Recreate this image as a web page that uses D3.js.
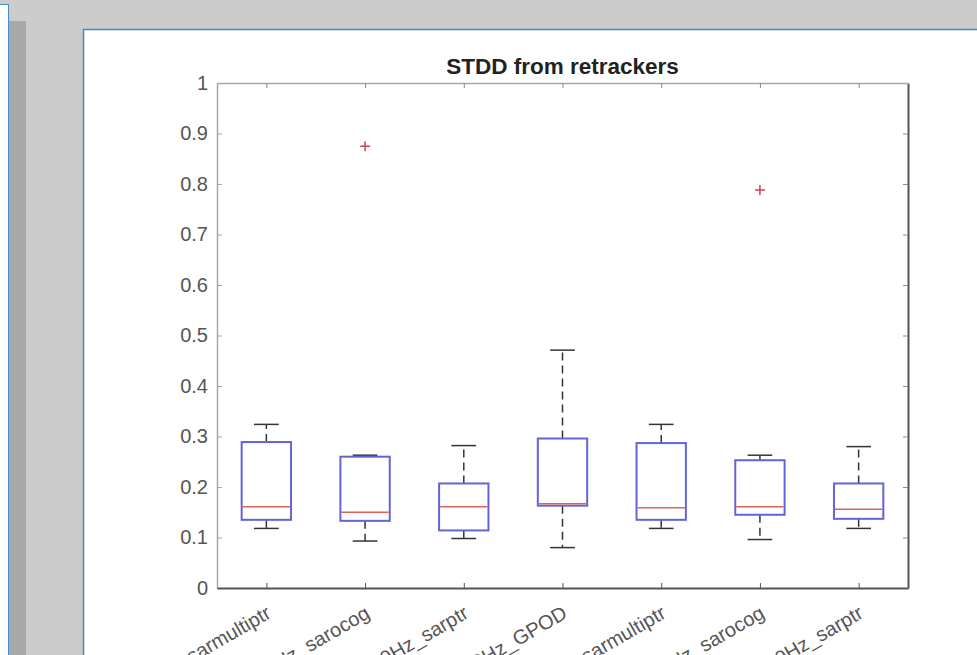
<!DOCTYPE html>
<html>
<head>
<meta charset="utf-8">
<script src="https://cdn.jsdelivr.net/npm/d3@7"></script>
<style>
  html, body { margin: 0; padding: 0; background: #cccccc; overflow: hidden; }
  svg { display: block; font-family: "Liberation Sans", Arial, Helvetica, sans-serif; }
</style>
</head>
<body>
<div id="chart"></div>
<script>
// values
const categories = [
  'S3A_20Hz_sarmultiptr', 'S3A_20Hz_sarocog', 'S3A_20Hz_sarptr', 'S3A_20Hz_GPOD',
  'S3B_20Hz_sarmultiptr', 'S3B_20Hz_sarocog', 'S3B_20Hz_sarptr'
]
const q1 = [0.135, 0.133, 0.114, 0.163, 0.135, 0.145, 0.137]
const medians = [0.161, 0.150, 0.161, 0.167, 0.159, 0.161, 0.156]
const q3 = [0.289, 0.260, 0.207, 0.296, 0.287, 0.253, 0.207]
const whiskerLow = [0.118, 0.093, 0.098, 0.080, 0.118, 0.096, 0.118]
const whiskerHigh = [0.324, 0.263, 0.282, 0.471, 0.324, 0.263, 0.280]
const outliers = [[], [0.875], [], [], [], [0.788], []]
const yTicks = [0, 0.1, 0.2, 0.3, 0.4, 0.5, 0.6, 0.7, 0.8, 0.9, 1]
const title = 'STDD from retrackers'

const totalWidth = 977
const totalHeight = 655
const axLeft = 217, axRight = 908, axTop = 83, axBottom = 588
const boxWidth = 0.5
const capWidth = 0.25
const axeLight = '#a8a8a8'
const axeDark = '#555555'

const svg = d3.select('#chart')
  .append('svg')
  .attr('width', totalWidth)
  .attr('height', totalHeight)

// page frames around the figure
svg.append('rect').attr('x', 0).attr('y', 0).attr('width', totalWidth).attr('height', totalHeight).attr('fill', '#cccccc')
svg.append('rect').attr('x', -2).attr('y', 4.5).attr('width', 10.5).attr('height', 700)
  .attr('fill', '#ffffff').attr('stroke', '#4a8cc8').attr('stroke-width', 1)
svg.append('rect').attr('x', 9).attr('y', 21).attr('width', 17).attr('height', 700).attr('fill', '#a9a9a9')
svg.append('rect').attr('x', 83.5).attr('y', 29.5).attr('width', 900).attr('height', 700)
  .attr('fill', '#ffffff').attr('stroke', '#3f88c8').attr('stroke-width', 1.5)

const x = d3.scaleLinear()
  .domain([0.5, categories.length + 0.5])
  .range([axLeft, axRight])

const y = d3.scaleLinear()
  .domain([0, 1])
  .range([axBottom, axTop])

const idx = d3.range(categories.length)

// axes box
const yAxis = svg.append('g')
  .attr('transform', `translate(${axLeft},0)`)
  .call(d3.axisLeft(y).tickValues(yTicks).tickFormat(d3.format('')).tickSizeInner(-5).tickSizeOuter(0).tickPadding(9))
yAxis.select('.domain').attr('stroke', axeLight).attr('stroke-width', 1.5)
yAxis.selectAll('.tick line').attr('stroke', axeLight)
yAxis.selectAll('.tick text').style('font-size', '20px').style('fill', '#555555')

const yAxisRight = svg.append('g')
  .attr('transform', `translate(${axRight},0)`)
  .call(d3.axisRight(y).tickValues(yTicks).tickFormat('').tickSizeInner(-5).tickSizeOuter(0))
yAxisRight.select('.domain').attr('stroke', axeDark).attr('stroke-width', 2)
yAxisRight.selectAll('.tick line').attr('stroke', '#888888')

const xAxisTop = svg.append('g')
  .attr('transform', `translate(0,${axTop})`)
  .call(d3.axisTop(x).tickValues(idx.map(i => i + 1)).tickFormat('').tickSizeInner(-5).tickSizeOuter(0))
xAxisTop.select('.domain').attr('stroke', axeLight).attr('stroke-width', 1.5)
xAxisTop.selectAll('.tick line').attr('stroke', '#888888')

const xAxis = svg.append('g')
  .attr('transform', `translate(0,${axBottom})`)
  .call(d3.axisBottom(x).tickValues(idx.map(i => i + 1)).tickFormat(d => categories[d - 1]).tickSizeInner(-5).tickSizeOuter(0))
xAxis.select('.domain').attr('stroke', axeDark).attr('stroke-width', 2)
xAxis.selectAll('.tick line').attr('stroke', axeDark)
xAxis.selectAll('.tick text')
  .attr('transform', 'translate(-2,16) rotate(-30)')
  .attr('text-anchor', 'end')
  .attr('dy', '0.75em')
  .attr('y', 0)
  .style('font-size', '20px')
  .style('fill', '#555555')

// title
svg.append('text')
  .attr('x', (axLeft + axRight) / 2)
  .attr('y', 74)
  .attr('text-anchor', 'middle')
  .style('font-size', '22.5px')
  .style('font-weight', 'bold')
  .style('fill', '#222222')
  .text(title)

const plot = svg.append('g').attr('class', 'boxes')

// whiskers (dashed)
plot.selectAll('line.whisker-up')
  .data(idx)
  .join('line')
  .attr('class', 'whisker-up')
  .attr('x1', i => x(i + 1)).attr('x2', i => x(i + 1))
  .attr('y1', i => y(q3[i])).attr('y2', i => y(whiskerHigh[i]))
  .attr('stroke', '#333333').attr('stroke-width', 1.5).attr('stroke-dasharray', '8,5')

plot.selectAll('line.whisker-down')
  .data(idx)
  .join('line')
  .attr('class', 'whisker-down')
  .attr('x1', i => x(i + 1)).attr('x2', i => x(i + 1))
  .attr('y1', i => y(q1[i])).attr('y2', i => y(whiskerLow[i]))
  .attr('stroke', '#333333').attr('stroke-width', 1.5).attr('stroke-dasharray', '8,5')

// whisker caps
plot.selectAll('line.cap-up')
  .data(idx)
  .join('line')
  .attr('class', 'cap-up')
  .attr('x1', i => x(i + 1 - capWidth / 2)).attr('x2', i => x(i + 1 + capWidth / 2))
  .attr('y1', i => y(whiskerHigh[i])).attr('y2', i => y(whiskerHigh[i]))
  .attr('stroke', '#333333').attr('stroke-width', 1.5)

plot.selectAll('line.cap-down')
  .data(idx)
  .join('line')
  .attr('class', 'cap-down')
  .attr('x1', i => x(i + 1 - capWidth / 2)).attr('x2', i => x(i + 1 + capWidth / 2))
  .attr('y1', i => y(whiskerLow[i])).attr('y2', i => y(whiskerLow[i]))
  .attr('stroke', '#333333').attr('stroke-width', 1.5)

// boxes
plot.selectAll('rect.box')
  .data(idx)
  .join('rect')
  .attr('class', 'box')
  .attr('x', i => x(i + 1 - boxWidth / 2))
  .attr('width', i => x(i + 1 + boxWidth / 2) - x(i + 1 - boxWidth / 2))
  .attr('y', i => y(q3[i]))
  .attr('height', i => y(q1[i]) - y(q3[i]))
  .attr('fill', 'none')
  .attr('stroke', '#6464d8')
  .attr('stroke-width', 2)

// medians
plot.selectAll('line.median')
  .data(idx)
  .join('line')
  .attr('class', 'median')
  .attr('x1', i => x(i + 1 - boxWidth / 2) + 1).attr('x2', i => x(i + 1 + boxWidth / 2) - 1)
  .attr('y1', i => y(medians[i])).attr('y2', i => y(medians[i]))
  .attr('stroke', '#e0605a')
  .attr('stroke-width', 1.5)

// outliers as red plus signs
const outlierPoints = idx.flatMap(i => outliers[i].map(v => ({ i, v })))
plot.selectAll('path.outlier')
  .data(outlierPoints)
  .join('path')
  .attr('class', 'outlier')
  .attr('d', d => {
    const cx = x(d.i + 1), cy = y(d.v), r = 5
    return `M${cx - r},${cy}H${cx + r}M${cx},${cy - r}V${cy + r}`
  })
  .attr('stroke', '#d0405a')
  .attr('stroke-width', 1.5)
</script>
</body>
</html>
